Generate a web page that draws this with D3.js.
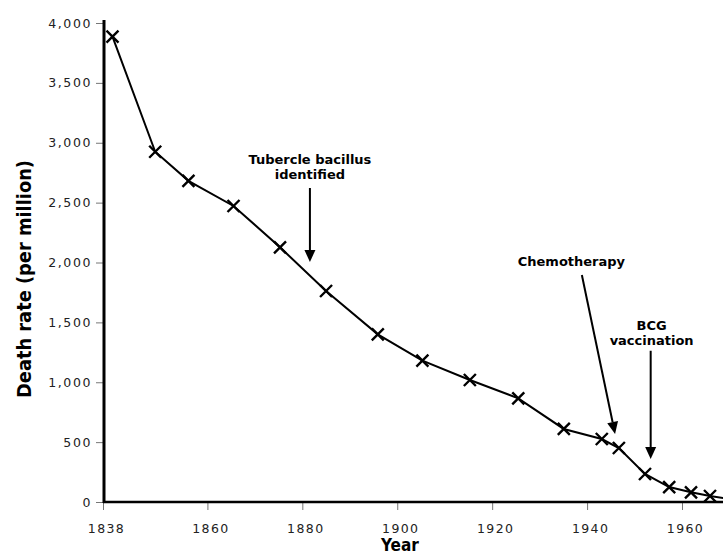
<!DOCTYPE html>
<html>
<head>
<meta charset="utf-8">
<script src="https://cdn.jsdelivr.net/npm/d3@7"></script>
<style>
  html, body { margin: 0; padding: 0; background: #fff; }
  svg { display: block; }
</style>
</head>
<body>
<svg id="chart" width="723" height="556"></svg>
<script>
// ---- data ----
const years = [1840, 1849, 1856, 1865.5, 1875.3, 1885, 1895.9, 1905.3, 1915.3, 1925.5, 1935.1, 1943.1, 1946.7, 1952.2, 1957.3, 1961.9, 1965.9, 1971];
const deathRate = [3886, 2925, 2682, 2472, 2127, 1762, 1400, 1180, 1019, 866, 610, 526, 451, 234, 125, 81, 50, 20];
const xTickYears = [1838, 1860, 1880, 1900, 1920, 1940, 1960];
const yTickValues = [0, 500, 1000, 1500, 2000, 2500, 3000, 3500, 4000];
const annotationLines = [["Tubercle bacillus", "identified"], ["Chemotherapy"], ["BCG", "vaccination"]];
const annotationFromYear = [1881.6, 1938.9, 1953.4];
const annotationFromValue = [2622, 1896, 1263];
const annotationToYear = [1881.6, 1945.9, 1953.4];
const annotationToValue = [2004, 568, 359];
const annotationTextYear = [1881.6, 1936.7, 1953.6];
const annotationTextValue = [2823, 1972, 1440];
const xTitle = "Year";
const yTitle = "Death rate (per million)";

// ---- layout ----
const svg = d3.select("#chart");
const x = d3.scaleLinear().domain([1838, 1960]).range([103, 682]);
const y = d3.scaleLinear().domain([0, 4000]).range([502, 23]);

const labelFont = "'DejaVu Sans', sans-serif";
const boldFont = "'DejaVu Sans Condensed', 'DejaVu Sans', sans-serif";

// y axis
const yAxis = svg.append("g").attr("transform", "translate(104,0)")
  .call(d3.axisLeft(y).tickValues(yTickValues).tickFormat(d3.format(",")).tickSize(8).tickPadding(4));
yAxis.select(".domain").remove();
yAxis.selectAll(".tick line").attr("stroke", "#777").attr("stroke-width", 1);
yAxis.selectAll(".tick text")
  .attr("font-family", labelFont).attr("font-size", 12.5)
  .attr("letter-spacing", "1.6px").attr("fill", "#222");

// x axis
const xAxis = svg.append("g").attr("transform", "translate(0,502)")
  .call(d3.axisBottom(x).tickValues(xTickYears).tickFormat(d3.format("d")).tickSize(8).tickPadding(14));
xAxis.select(".domain").remove();
xAxis.selectAll(".tick line").attr("stroke", "#777").attr("stroke-width", 1);
xAxis.selectAll(".tick text")
  .attr("font-family", labelFont).attr("font-size", 12.5)
  .attr("letter-spacing", "1.4px").attr("fill", "#222").attr("dx", "3px");

// axis lines
svg.append("line").attr("x1", 104).attr("x2", 104).attr("y1", 20).attr("y2", 503)
  .attr("stroke", "#000").attr("stroke-width", 3);
svg.append("line").attr("x1", 103).attr("x2", 723).attr("y1", 502).attr("y2", 502)
  .attr("stroke", "#000").attr("stroke-width", 2.5);

// axis titles
svg.append("text").attr("transform", "translate(31,279) rotate(-90)")
  .attr("text-anchor", "middle").attr("font-family", boldFont)
  .attr("font-weight", "bold").attr("font-size", 19)
  .attr("textLength", 238).attr("lengthAdjust", "spacingAndGlyphs")
  .attr("fill", "#000").text(yTitle);
svg.append("text").attr("x", 400).attr("y", 551)
  .attr("text-anchor", "middle").attr("font-family", boldFont)
  .attr("font-weight", "bold").attr("font-size", 17).attr("fill", "#000").text(xTitle);

// data line
const pts = years.map((yr, i) => [yr, deathRate[i]]);
const line = d3.line().x(d => x(d[0])).y(d => y(d[1]));
svg.append("path").datum(pts).attr("d", line)
  .attr("fill", "none").attr("stroke", "#000").attr("stroke-width", 2);

// X markers
const s = 6;
svg.append("g").selectAll("path").data(pts).join("path")
  .attr("d", d => {
    const cx = x(d[0]), cy = y(d[1]);
    return `M${cx - s},${cy - s}L${cx + s},${cy + s}M${cx - s},${cy + s}L${cx + s},${cy - s}`;
  })
  .attr("stroke", "#000").attr("stroke-width", 2.4).attr("fill", "none");

// annotations
annotationLines.forEach((lines, i) => {
  const tx = x(annotationTextYear[i]), ty = y(annotationTextValue[i]);
  const t = svg.append("text").attr("text-anchor", "middle")
    .attr("font-family", labelFont).attr("font-weight", "bold")
    .attr("font-size", 13).attr("fill", "#000");
  lines.forEach((ln, j) => {
    t.append("tspan").attr("x", tx).attr("y", ty + j * 15).text(ln);
  });
  const x1 = x(annotationFromYear[i]), y1 = y(annotationFromValue[i]);
  const x2 = x(annotationToYear[i]), y2 = y(annotationToValue[i]);
  const ang = Math.atan2(y2 - y1, x2 - x1);
  const headLen = 12, headW = 5.5;
  const bx = x2 - headLen * Math.cos(ang), by = y2 - headLen * Math.sin(ang);
  svg.append("line").attr("x1", x1).attr("y1", y1).attr("x2", bx).attr("y2", by)
    .attr("stroke", "#000").attr("stroke-width", 2);
  const px = -Math.sin(ang) * headW, py = Math.cos(ang) * headW;
  svg.append("path")
    .attr("d", `M${x2},${y2}L${bx + px},${by + py}L${bx - px},${by - py}Z`)
    .attr("fill", "#000");
});
</script>
</body>
</html>
